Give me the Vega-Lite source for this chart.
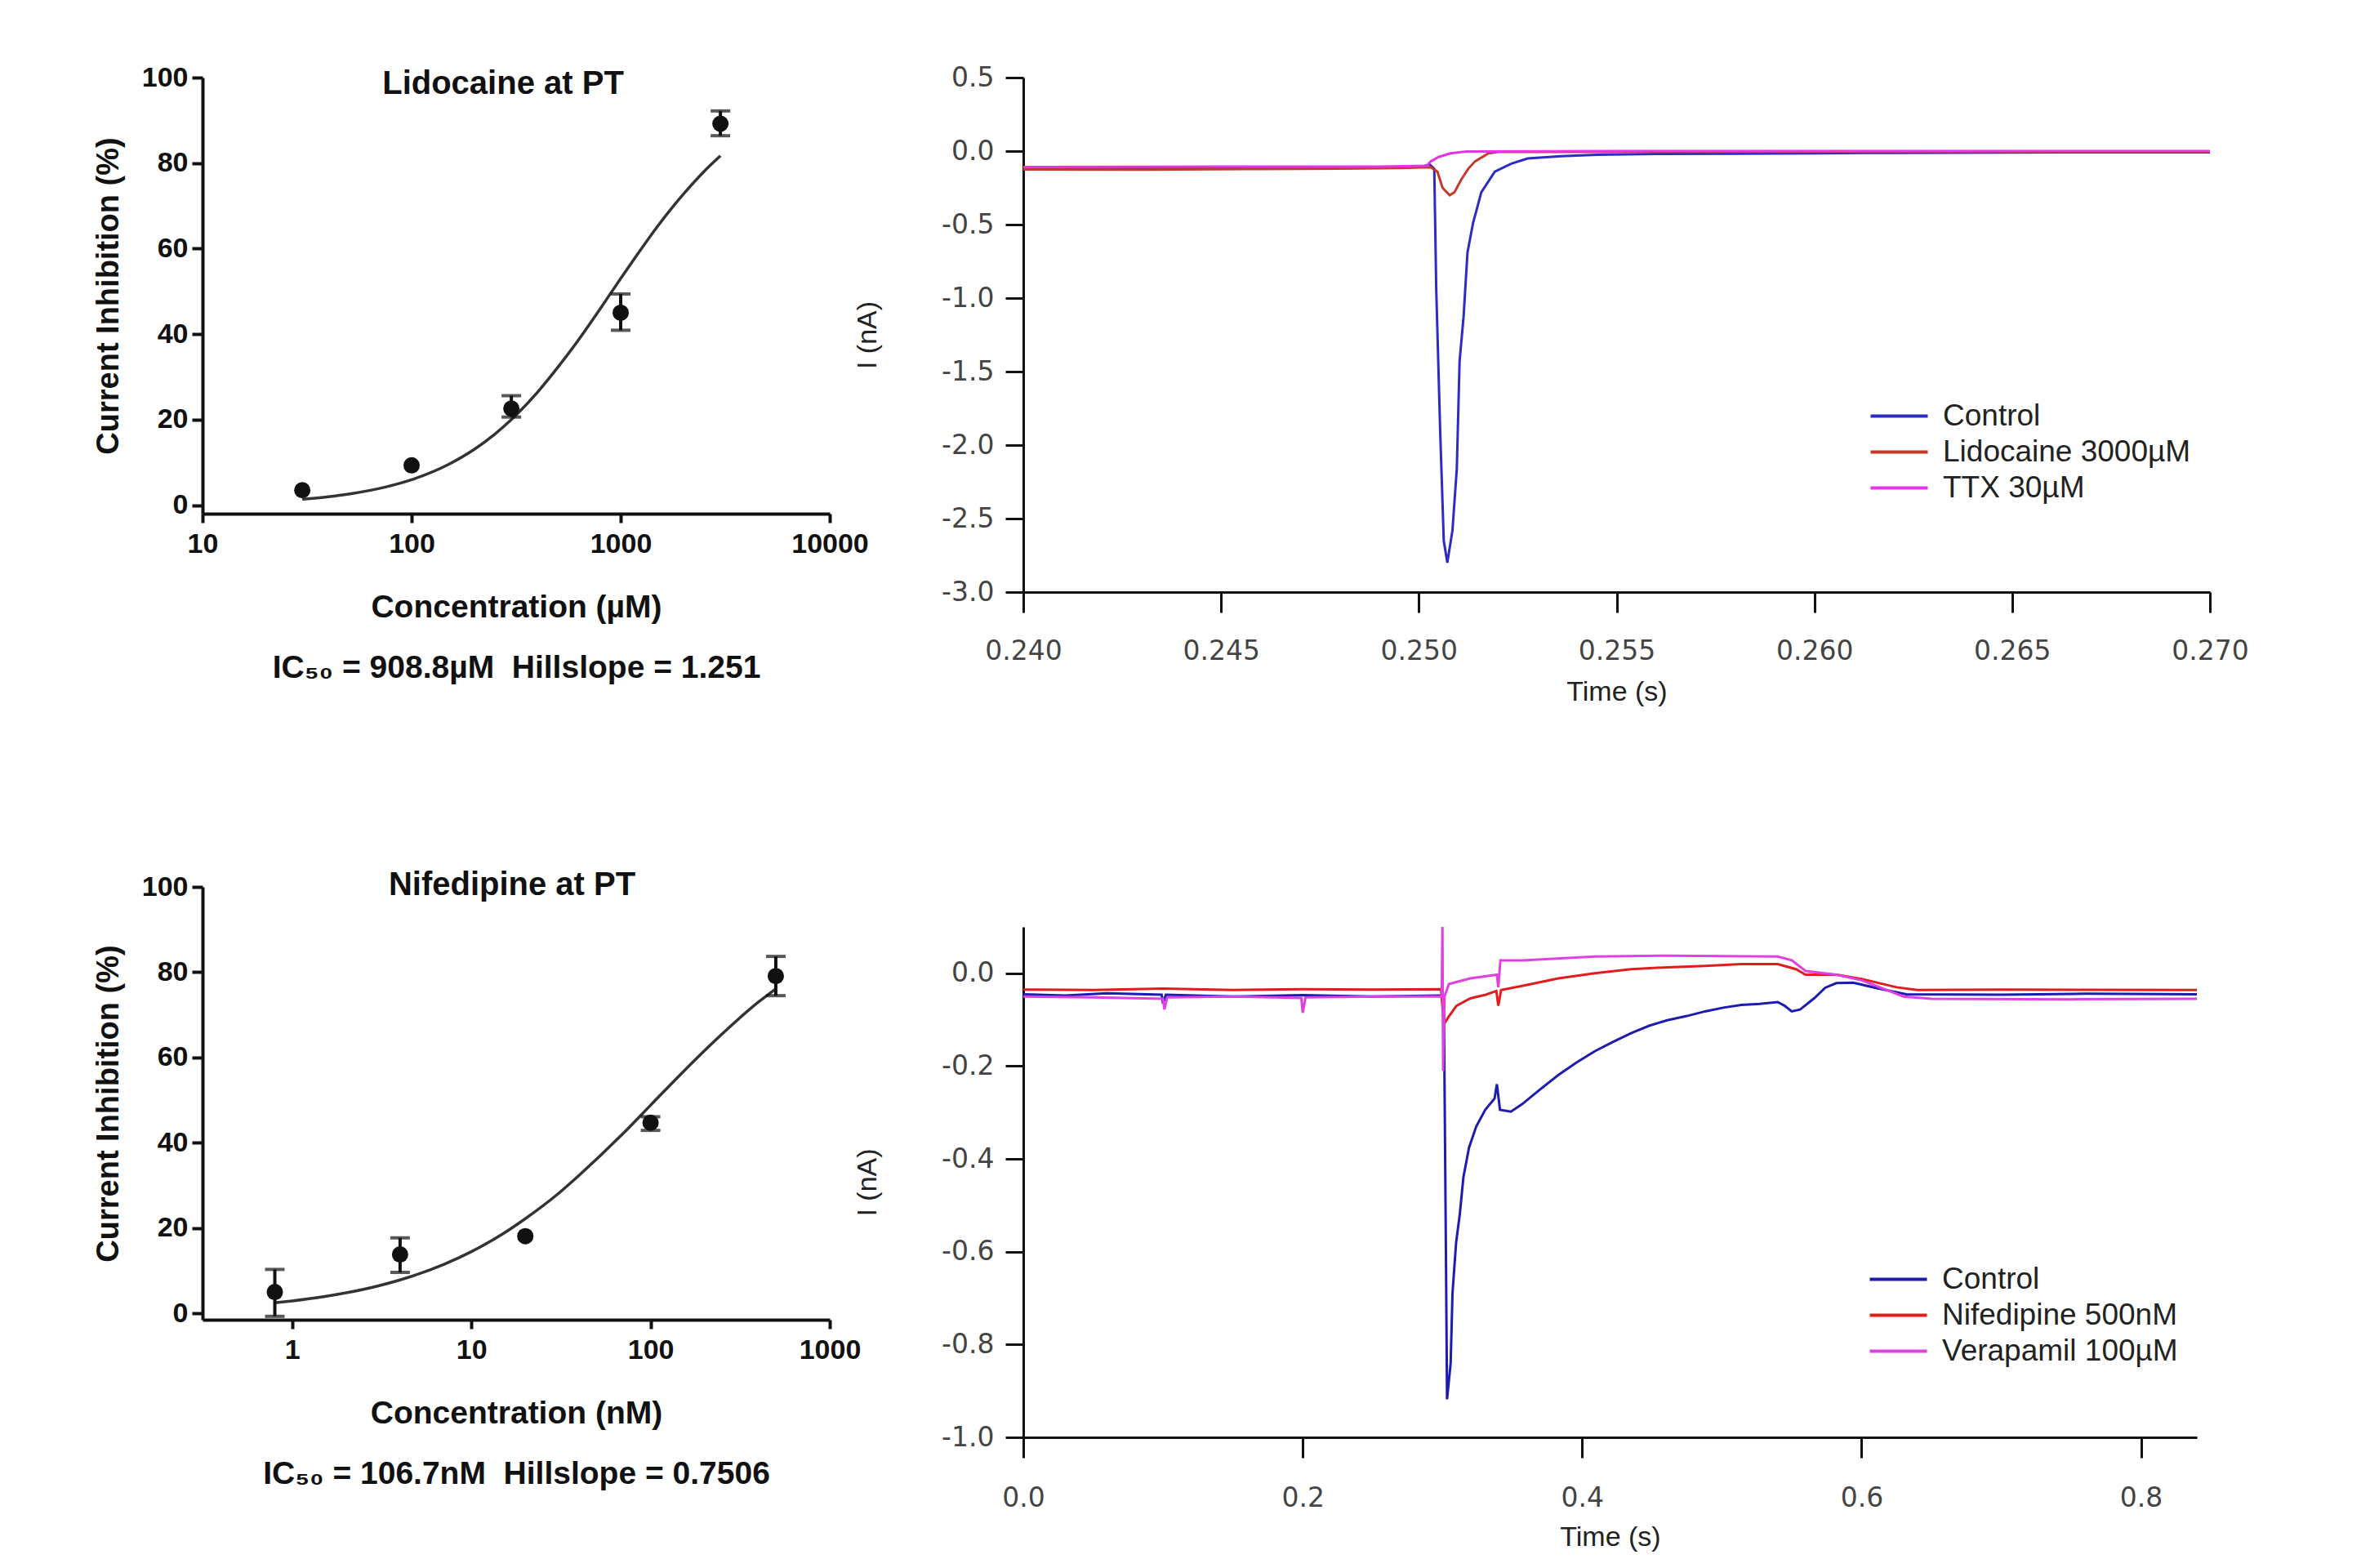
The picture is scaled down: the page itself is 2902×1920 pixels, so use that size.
{
  "$schema": "https://vega.github.io/schema/vega-lite/v6.json",
  "background": "white",
  "padding": {"left": 114, "top": 78, "right": 5, "bottom": 5},
  "config": {"view": {"stroke": null}, "font": "Liberation Sans"},
  "datasets": {
    "lidoPts": [
      {"conc": 30, "inh": 3.5, "lo": null, "hi": null},
      {"conc": 100, "inh": 9.3, "lo": null, "hi": null},
      {"conc": 300, "inh": 22.6, "lo": 20.6, "hi": 25.6},
      {"conc": 1000, "inh": 45.0, "lo": 40.9, "hi": 49.4},
      {"conc": 3000, "inh": 89.2, "lo": 86.4, "hi": 92.2}
    ],
    "lidoFit": [
      {"conc": 30, "inh": 1.38}, {"conc": 40, "inh": 1.97}, {"conc": 50, "inh": 2.59},
      {"conc": 75, "inh": 4.23}, {"conc": 100, "inh": 5.95}, {"conc": 150, "inh": 9.51},
      {"conc": 200, "inh": 13.08}, {"conc": 250, "inh": 16.6}, {"conc": 300, "inh": 20.0},
      {"conc": 400, "inh": 26.4}, {"conc": 500, "inh": 32.2}, {"conc": 600, "inh": 37.3},
      {"conc": 700, "inh": 41.9}, {"conc": 800, "inh": 46.0}, {"conc": 900, "inh": 49.7},
      {"conc": 1000, "inh": 53.0}, {"conc": 1200, "inh": 58.6}, {"conc": 1500, "inh": 65.2},
      {"conc": 2000, "inh": 72.8}, {"conc": 2500, "inh": 78.0}, {"conc": 3000, "inh": 81.7}
    ],
    "nifePts": [
      {"conc": 0.8, "inh": 5.0, "lo": -0.7, "hi": 10.3},
      {"conc": 4, "inh": 13.8, "lo": 9.6, "hi": 17.7},
      {"conc": 20, "inh": 18.1, "lo": null, "hi": null},
      {"conc": 100, "inh": 44.7, "lo": 42.9, "hi": 46.1},
      {"conc": 500, "inh": 79.1, "lo": 74.5, "hi": 83.7}
    ],
    "nifeFit": [
      {"conc": 0.8, "inh": 2.48}, {"conc": 1, "inh": 2.92}, {"conc": 1.5, "inh": 3.91},
      {"conc": 2, "inh": 4.81}, {"conc": 3, "inh": 6.41}, {"conc": 4, "inh": 7.84},
      {"conc": 7, "inh": 11.45}, {"conc": 10, "inh": 14.47}, {"conc": 15, "inh": 18.65},
      {"conc": 20, "inh": 22.2}, {"conc": 30, "inh": 27.8}, {"conc": 40, "inh": 32.4},
      {"conc": 70, "inh": 42.1}, {"conc": 100, "inh": 48.8}, {"conc": 150, "inh": 56.4},
      {"conc": 200, "inh": 61.6}, {"conc": 300, "inh": 68.5}, {"conc": 400, "inh": 73.0},
      {"conc": 500, "inh": 76.1}
    ],
    "topTrace": [
      {"series": "Control", "t": 0.2400, "i": -0.115},
      {"series": "Control", "t": 0.2420, "i": -0.113},
      {"series": "Control", "t": 0.2440, "i": -0.116},
      {"series": "Control", "t": 0.2460, "i": -0.112},
      {"series": "Control", "t": 0.2480, "i": -0.114},
      {"series": "Control", "t": 0.2495, "i": -0.110},
      {"series": "Control", "t": 0.2501, "i": -0.105},
      {"series": "Control", "t": 0.25027, "i": -0.09},
      {"series": "Control", "t": 0.25039, "i": -0.12},
      {"series": "Control", "t": 0.25044, "i": -0.94},
      {"series": "Control", "t": 0.25054, "i": -1.91},
      {"series": "Control", "t": 0.25063, "i": -2.65},
      {"series": "Control", "t": 0.25072, "i": -2.80},
      {"series": "Control", "t": 0.25085, "i": -2.58},
      {"series": "Control", "t": 0.25096, "i": -2.16},
      {"series": "Control", "t": 0.25103, "i": -1.43},
      {"series": "Control", "t": 0.25113, "i": -1.13},
      {"series": "Control", "t": 0.25123, "i": -0.69},
      {"series": "Control", "t": 0.25137, "i": -0.49},
      {"series": "Control", "t": 0.25158, "i": -0.28},
      {"series": "Control", "t": 0.25192, "i": -0.14},
      {"series": "Control", "t": 0.25234, "i": -0.085},
      {"series": "Control", "t": 0.25275, "i": -0.05},
      {"series": "Control", "t": 0.2536, "i": -0.035},
      {"series": "Control", "t": 0.2545, "i": -0.025},
      {"series": "Control", "t": 0.2560, "i": -0.02},
      {"series": "Control", "t": 0.2580, "i": -0.018},
      {"series": "Control", "t": 0.2600, "i": -0.015},
      {"series": "Control", "t": 0.2620, "i": -0.012},
      {"series": "Control", "t": 0.2650, "i": -0.01},
      {"series": "Control", "t": 0.2680, "i": -0.008},
      {"series": "Control", "t": 0.2700, "i": -0.008},
      {"series": "Lidocaine 3000µM", "t": 0.2400, "i": -0.125},
      {"series": "Lidocaine 3000µM", "t": 0.2430, "i": -0.127},
      {"series": "Lidocaine 3000µM", "t": 0.2460, "i": -0.122},
      {"series": "Lidocaine 3000µM", "t": 0.2480, "i": -0.120},
      {"series": "Lidocaine 3000µM", "t": 0.2495, "i": -0.115},
      {"series": "Lidocaine 3000µM", "t": 0.2503, "i": -0.11},
      {"series": "Lidocaine 3000µM", "t": 0.25047, "i": -0.14},
      {"series": "Lidocaine 3000µM", "t": 0.2506, "i": -0.25},
      {"series": "Lidocaine 3000µM", "t": 0.25078, "i": -0.30},
      {"series": "Lidocaine 3000µM", "t": 0.2509, "i": -0.28},
      {"series": "Lidocaine 3000µM", "t": 0.25108, "i": -0.19},
      {"series": "Lidocaine 3000µM", "t": 0.25125, "i": -0.12},
      {"series": "Lidocaine 3000µM", "t": 0.25142, "i": -0.07},
      {"series": "Lidocaine 3000µM", "t": 0.25176, "i": -0.015},
      {"series": "Lidocaine 3000µM", "t": 0.2520, "i": -0.005},
      {"series": "Lidocaine 3000µM", "t": 0.2550, "i": -0.005},
      {"series": "Lidocaine 3000µM", "t": 0.2600, "i": -0.004},
      {"series": "Lidocaine 3000µM", "t": 0.2700, "i": -0.004},
      {"series": "TTX 30µM", "t": 0.2400, "i": -0.108},
      {"series": "TTX 30µM", "t": 0.2450, "i": -0.106},
      {"series": "TTX 30µM", "t": 0.2490, "i": -0.105},
      {"series": "TTX 30µM", "t": 0.2502, "i": -0.10},
      {"series": "TTX 30µM", "t": 0.2503, "i": -0.07},
      {"series": "TTX 30µM", "t": 0.2505, "i": -0.04},
      {"series": "TTX 30µM", "t": 0.2508, "i": -0.015},
      {"series": "TTX 30µM", "t": 0.2512, "i": -0.003},
      {"series": "TTX 30µM", "t": 0.2550, "i": 0.0},
      {"series": "TTX 30µM", "t": 0.2600, "i": 0.0},
      {"series": "TTX 30µM", "t": 0.2700, "i": 0.0}
    ],
    "botTrace": [
      {"series": "Control", "t": 0.000, "i": -0.045},
      {"series": "Control", "t": 0.030, "i": -0.048},
      {"series": "Control", "t": 0.060, "i": -0.043},
      {"series": "Control", "t": 0.099, "i": -0.046},
      {"series": "Control", "t": 0.100, "i": -0.065},
      {"series": "Control", "t": 0.102, "i": -0.046},
      {"series": "Control", "t": 0.150, "i": -0.050},
      {"series": "Control", "t": 0.200, "i": -0.047},
      {"series": "Control", "t": 0.250, "i": -0.050},
      {"series": "Control", "t": 0.298, "i": -0.048},
      {"series": "Control", "t": 0.301, "i": -0.050},
      {"series": "Control", "t": 0.3025, "i": -0.60},
      {"series": "Control", "t": 0.3033, "i": -0.918},
      {"series": "Control", "t": 0.3059, "i": -0.84},
      {"series": "Control", "t": 0.3072, "i": -0.69},
      {"series": "Control", "t": 0.3098, "i": -0.58},
      {"series": "Control", "t": 0.3124, "i": -0.52},
      {"series": "Control", "t": 0.3150, "i": -0.44},
      {"series": "Control", "t": 0.3190, "i": -0.376},
      {"series": "Control", "t": 0.3242, "i": -0.33},
      {"series": "Control", "t": 0.3307, "i": -0.294},
      {"series": "Control", "t": 0.3373, "i": -0.27},
      {"series": "Control", "t": 0.3390, "i": -0.239},
      {"series": "Control", "t": 0.3412, "i": -0.294},
      {"series": "Control", "t": 0.349, "i": -0.298},
      {"series": "Control", "t": 0.357, "i": -0.282},
      {"series": "Control", "t": 0.370, "i": -0.25},
      {"series": "Control", "t": 0.383, "i": -0.219},
      {"series": "Control", "t": 0.396, "i": -0.192},
      {"series": "Control", "t": 0.409, "i": -0.168},
      {"series": "Control", "t": 0.422, "i": -0.148},
      {"series": "Control", "t": 0.435, "i": -0.129},
      {"series": "Control", "t": 0.448, "i": -0.113},
      {"series": "Control", "t": 0.461, "i": -0.101},
      {"series": "Control", "t": 0.475, "i": -0.092},
      {"series": "Control", "t": 0.488, "i": -0.082},
      {"series": "Control", "t": 0.501, "i": -0.074},
      {"series": "Control", "t": 0.514, "i": -0.068},
      {"series": "Control", "t": 0.527, "i": -0.066},
      {"series": "Control", "t": 0.540, "i": -0.062},
      {"series": "Control", "t": 0.545, "i": -0.070},
      {"series": "Control", "t": 0.550, "i": -0.082},
      {"series": "Control", "t": 0.556, "i": -0.078},
      {"series": "Control", "t": 0.566, "i": -0.054},
      {"series": "Control", "t": 0.574, "i": -0.031},
      {"series": "Control", "t": 0.582, "i": -0.021},
      {"series": "Control", "t": 0.594, "i": -0.020},
      {"series": "Control", "t": 0.611, "i": -0.032},
      {"series": "Control", "t": 0.632, "i": -0.045},
      {"series": "Control", "t": 0.700, "i": -0.046},
      {"series": "Control", "t": 0.760, "i": -0.044},
      {"series": "Control", "t": 0.840, "i": -0.045},
      {"series": "Nifedipine 500nM", "t": 0.000, "i": -0.035},
      {"series": "Nifedipine 500nM", "t": 0.050, "i": -0.036},
      {"series": "Nifedipine 500nM", "t": 0.100, "i": -0.033},
      {"series": "Nifedipine 500nM", "t": 0.150, "i": -0.036},
      {"series": "Nifedipine 500nM", "t": 0.200, "i": -0.034},
      {"series": "Nifedipine 500nM", "t": 0.250, "i": -0.035},
      {"series": "Nifedipine 500nM", "t": 0.299, "i": -0.034},
      {"series": "Nifedipine 500nM", "t": 0.301, "i": -0.110},
      {"series": "Nifedipine 500nM", "t": 0.3046, "i": -0.093},
      {"series": "Nifedipine 500nM", "t": 0.310, "i": -0.070},
      {"series": "Nifedipine 500nM", "t": 0.320, "i": -0.054},
      {"series": "Nifedipine 500nM", "t": 0.331, "i": -0.046},
      {"series": "Nifedipine 500nM", "t": 0.3386, "i": -0.038},
      {"series": "Nifedipine 500nM", "t": 0.340, "i": -0.070},
      {"series": "Nifedipine 500nM", "t": 0.342, "i": -0.036},
      {"series": "Nifedipine 500nM", "t": 0.357, "i": -0.027},
      {"series": "Nifedipine 500nM", "t": 0.383, "i": -0.011},
      {"series": "Nifedipine 500nM", "t": 0.409, "i": 0.000},
      {"series": "Nifedipine 500nM", "t": 0.435, "i": 0.009},
      {"series": "Nifedipine 500nM", "t": 0.461, "i": 0.013},
      {"series": "Nifedipine 500nM", "t": 0.488, "i": 0.016},
      {"series": "Nifedipine 500nM", "t": 0.514, "i": 0.020},
      {"series": "Nifedipine 500nM", "t": 0.540, "i": 0.020},
      {"series": "Nifedipine 500nM", "t": 0.553, "i": 0.009},
      {"series": "Nifedipine 500nM", "t": 0.560, "i": -0.003},
      {"series": "Nifedipine 500nM", "t": 0.582, "i": -0.003},
      {"series": "Nifedipine 500nM", "t": 0.600, "i": -0.012},
      {"series": "Nifedipine 500nM", "t": 0.625, "i": -0.030},
      {"series": "Nifedipine 500nM", "t": 0.640, "i": -0.036},
      {"series": "Nifedipine 500nM", "t": 0.700, "i": -0.035},
      {"series": "Nifedipine 500nM", "t": 0.840, "i": -0.036},
      {"series": "Verapamil 100µM", "t": 0.000, "i": -0.050},
      {"series": "Verapamil 100µM", "t": 0.050, "i": -0.052},
      {"series": "Verapamil 100µM", "t": 0.100, "i": -0.055},
      {"series": "Verapamil 100µM", "t": 0.101, "i": -0.078},
      {"series": "Verapamil 100µM", "t": 0.103, "i": -0.052},
      {"series": "Verapamil 100µM", "t": 0.150, "i": -0.050},
      {"series": "Verapamil 100µM", "t": 0.199, "i": -0.053},
      {"series": "Verapamil 100µM", "t": 0.200, "i": -0.085},
      {"series": "Verapamil 100µM", "t": 0.202, "i": -0.052},
      {"series": "Verapamil 100µM", "t": 0.250, "i": -0.050},
      {"series": "Verapamil 100µM", "t": 0.2995, "i": -0.050},
      {"series": "Verapamil 100µM", "t": 0.3000, "i": 0.100},
      {"series": "Verapamil 100µM", "t": 0.3005, "i": -0.210},
      {"series": "Verapamil 100µM", "t": 0.3015, "i": -0.050},
      {"series": "Verapamil 100µM", "t": 0.3046, "i": -0.023},
      {"series": "Verapamil 100µM", "t": 0.320, "i": -0.011},
      {"series": "Verapamil 100µM", "t": 0.339, "i": -0.003},
      {"series": "Verapamil 100µM", "t": 0.340, "i": -0.030},
      {"series": "Verapamil 100µM", "t": 0.3415, "i": 0.028},
      {"series": "Verapamil 100µM", "t": 0.357, "i": 0.028},
      {"series": "Verapamil 100µM", "t": 0.409, "i": 0.036},
      {"series": "Verapamil 100µM", "t": 0.461, "i": 0.038},
      {"series": "Verapamil 100µM", "t": 0.540, "i": 0.036},
      {"series": "Verapamil 100µM", "t": 0.550, "i": 0.028},
      {"series": "Verapamil 100µM", "t": 0.560, "i": 0.005},
      {"series": "Verapamil 100µM", "t": 0.582, "i": -0.003},
      {"series": "Verapamil 100µM", "t": 0.600, "i": -0.015},
      {"series": "Verapamil 100µM", "t": 0.630, "i": -0.050},
      {"series": "Verapamil 100µM", "t": 0.650, "i": -0.055},
      {"series": "Verapamil 100µM", "t": 0.750, "i": -0.056},
      {"series": "Verapamil 100µM", "t": 0.840, "i": -0.055}
    ]
  },
  "spacing": -19,
  "hconcat": [
    {
      "spacing": 227,
      "vconcat": [
        {
          "width": 768, "height": 534,
          "title": {"text": "Lidocaine at PT", "font": "Liberation Sans", "fontSize": 40, "fontWeight": "bold", "color": "#111", "frame": "group", "anchor": "middle", "offset": -45, "dx": -16},
          "layer": [
            {
              "data": {"name": "lidoFit"},
              "mark": {"type": "line", "color": "#333", "strokeWidth": 3.5, "interpolate": "monotone"},
              "encoding": {
                "x": {"field": "conc", "type": "quantitative", "scale": {"type": "log", "domain": [10, 10000], "nice": false},
                  "axis": {"title": ["Concentration (µM)", "IC₅₀ = 908.8µM\u00a0 Hillslope = 1.251"], "titleFont": "Liberation Sans", "titleFontSize": 39, "titleFontWeight": "bold", "titleColor": "#111", "titleLineHeight": 74, "titlePadding": 41, "labelFont": "Liberation Sans", "labelFontSize": 34, "labelFontWeight": "bold", "labelColor": "#111", "labelPadding": 9, "tickSize": 11, "tickWidth": 4, "tickColor": "#111", "domainWidth": 4, "domainColor": "#111", "grid": false, "values": [10, 100, 1000, 10000], "format": "d", "labelFlush": false, "labelOverlap": false}},
                "y": {"field": "inh", "type": "quantitative", "scale": {"domain": [-2, 100], "nice": false, "zero": false},
                  "axis": {"title": "Current Inhibition (%)", "titleFont": "Liberation Sans", "titleFontSize": 38, "titleFontWeight": "bold", "titleColor": "#111", "titlePadding": 21, "labelFont": "Liberation Sans", "labelFontSize": 34, "labelFontWeight": "bold", "labelColor": "#111", "labelPadding": 5, "tickSize": 13, "tickWidth": 4, "tickColor": "#111", "domainWidth": 4, "domainColor": "#111", "grid": false, "values": [0, 20, 40, 60, 80, 100]}}
              }
            },
            {
              "data": {"name": "lidoPts"},
              "transform": [{"filter": "datum.lo != null"}],
              "mark": {"type": "errorbar", "color": "#111", "thickness": 4, "ticks": {"size": 24, "thickness": 4, "color": "#111"}},
              "encoding": {
                "x": {"field": "conc", "type": "quantitative", "title": ["Concentration (µM)", "IC₅₀ = 908.8µM\u00a0 Hillslope = 1.251"]},
                "y": {"field": "lo", "type": "quantitative", "title": "Current Inhibition (%)"},
                "y2": {"field": "hi"}
              }
            },
            {
              "data": {"name": "lidoPts"},
              "mark": {"type": "point", "filled": true, "color": "#111", "opacity": 1, "size": 400},
              "encoding": {
                "x": {"field": "conc", "type": "quantitative", "title": ["Concentration (µM)", "IC₅₀ = 908.8µM\u00a0 Hillslope = 1.251"]},
                "y": {"field": "inh", "type": "quantitative", "title": "Current Inhibition (%)"}
              }
            }
          ]
        },
        {
          "width": 768, "height": 530,
          "title": {"text": "Nifedipine at PT", "font": "Liberation Sans", "fontSize": 40, "fontWeight": "bold", "color": "#111", "frame": "group", "anchor": "middle", "offset": -35, "dx": -5},
          "layer": [
            {
              "data": {"name": "nifeFit"},
              "mark": {"type": "line", "color": "#333", "strokeWidth": 3.5, "interpolate": "monotone"},
              "encoding": {
                "x": {"field": "conc", "type": "quantitative", "scale": {"type": "log", "domain": [0.316, 1000], "nice": false},
                  "axis": {"title": ["Concentration (nM)", "IC₅₀ = 106.7nM\u00a0 Hillslope = 0.7506"], "titleFont": "Liberation Sans", "titleFontSize": 39, "titleFontWeight": "bold", "titleColor": "#111", "titleLineHeight": 74, "titlePadding": 41, "labelFont": "Liberation Sans", "labelFontSize": 34, "labelFontWeight": "bold", "labelColor": "#111", "labelPadding": 9, "tickSize": 11, "tickWidth": 4, "tickColor": "#111", "domainWidth": 4, "domainColor": "#111", "grid": false, "values": [1, 10, 100, 1000], "format": "d", "labelFlush": false, "labelOverlap": false}},
                "y": {"field": "inh", "type": "quantitative", "scale": {"domain": [-1.5, 100], "nice": false, "zero": false},
                  "axis": {"title": "Current Inhibition (%)", "titleFont": "Liberation Sans", "titleFontSize": 38, "titleFontWeight": "bold", "titleColor": "#111", "titlePadding": 21, "labelFont": "Liberation Sans", "labelFontSize": 34, "labelFontWeight": "bold", "labelColor": "#111", "labelPadding": 5, "tickSize": 13, "tickWidth": 4, "tickColor": "#111", "domainWidth": 4, "domainColor": "#111", "grid": false, "values": [0, 20, 40, 60, 80, 100]}}
              }
            },
            {
              "data": {"name": "nifePts"},
              "transform": [{"filter": "datum.lo != null"}],
              "mark": {"type": "errorbar", "color": "#111", "thickness": 4, "ticks": {"size": 24, "thickness": 4, "color": "#111"}},
              "encoding": {
                "x": {"field": "conc", "type": "quantitative", "title": ["Concentration (nM)", "IC₅₀ = 106.7nM\u00a0 Hillslope = 0.7506"]},
                "y": {"field": "lo", "type": "quantitative", "title": "Current Inhibition (%)"},
                "y2": {"field": "hi"}
              }
            },
            {
              "data": {"name": "nifePts"},
              "mark": {"type": "point", "filled": true, "color": "#111", "opacity": 1, "size": 400},
              "encoding": {
                "x": {"field": "conc", "type": "quantitative", "title": ["Concentration (nM)", "IC₅₀ = 106.7nM\u00a0 Hillslope = 0.7506"]},
                "y": {"field": "inh", "type": "quantitative", "title": "Current Inhibition (%)"}
              }
            }
          ]
        }
      ]
    },
    {
      "spacing": 265,
      "resolve": {"scale": {"color": "independent"}, "legend": {"color": "independent"}},
      "vconcat": [
        {
          "width": 1453, "height": 630,
          "data": {"name": "topTrace"},
          "mark": {"type": "line", "strokeWidth": 3},
          "encoding": {
            "x": {"field": "t", "type": "quantitative", "scale": {"domain": [0.24, 0.27], "nice": false, "zero": false},
              "axis": {"title": "Time (s)", "titleFont": "Liberation Sans", "titleFontSize": 34, "titleFontWeight": "normal", "titleColor": "#222", "titlePadding": 16, "labelFont": "DejaVu Sans", "labelFontSize": 33, "labelColor": "#444", "labelPadding": 31, "tickSize": 25, "tickWidth": 3, "tickColor": "#111", "domainWidth": 3, "domainColor": "#111", "grid": false, "values": [0.24, 0.245, 0.25, 0.255, 0.26, 0.265, 0.27], "format": ".3f", "labelFlush": false, "labelOverlap": false}},
            "y": {"field": "i", "type": "quantitative", "scale": {"domain": [-3, 0.5], "nice": false, "zero": false},
              "axis": {"title": "I (nA)", "titleFont": "Liberation Sans", "titleFontSize": 34, "titleFontWeight": "normal", "titleColor": "#222", "titlePadding": 73, "labelFont": "DejaVu Sans", "labelFontSize": 33, "labelColor": "#444", "labelPadding": 14, "tickSize": 22, "tickWidth": 3, "tickColor": "#111", "domainWidth": 3, "domainColor": "#111", "grid": false, "values": [-3, -2.5, -2, -1.5, -1, -0.5, 0, 0.5], "labelExpr": "replace(format(datum.value, '.1f'), '\u2212', '-')", "labelFlush": false}},
            "color": {"field": "series", "type": "nominal",
              "scale": {"domain": ["Control", "Lidocaine 3000µM", "TTX 30µM"], "range": ["#2c2cc4", "#c43a2a", "#e832e8"]},
              "legend": {"title": null, "orient": "none", "legendX": 1019, "legendY": 396, "symbolType": "M0,0H5", "symbolSize": 784, "symbolStrokeWidth": 4, "labelFont": "Liberation Sans", "labelFontSize": 37, "labelColor": "#222", "labelOffset": 70, "labelLimit": 0, "rowPadding": 6}}
          }
        },
        {
          "width": 1437, "height": 625,
          "data": {"name": "botTrace"},
          "mark": {"type": "line", "strokeWidth": 3},
          "encoding": {
            "x": {"field": "t", "type": "quantitative", "scale": {"domain": [0, 0.84], "nice": false, "zero": false},
              "axis": {"title": "Time (s)", "titleFont": "Liberation Sans", "titleFontSize": 34, "titleFontWeight": "normal", "titleColor": "#222", "titlePadding": 14, "labelFont": "DejaVu Sans", "labelFontSize": 33, "labelColor": "#444", "labelPadding": 33, "tickSize": 25, "tickWidth": 3, "tickColor": "#111", "domainWidth": 3, "domainColor": "#111", "grid": false, "values": [0, 0.2, 0.4, 0.6, 0.8], "format": ".1f", "labelFlush": false, "labelOverlap": false}},
            "y": {"field": "i", "type": "quantitative", "scale": {"domain": [-1, 0.1], "nice": false, "zero": false},
              "axis": {"title": "I (nA)", "titleFont": "Liberation Sans", "titleFontSize": 34, "titleFontWeight": "normal", "titleColor": "#222", "titlePadding": 73, "labelFont": "DejaVu Sans", "labelFontSize": 33, "labelColor": "#444", "labelPadding": 14, "tickSize": 22, "tickWidth": 3, "tickColor": "#111", "domainWidth": 3, "domainColor": "#111", "grid": false, "values": [-1, -0.8, -0.6, -0.4, -0.2, 0], "labelExpr": "replace(format(datum.value, '.1f'), '\u2212', '-')", "labelFlush": false}},
            "color": {"field": "series", "type": "nominal",
              "scale": {"domain": ["Control", "Nifedipine 500nM", "Verapamil 100µM"], "range": ["#1c1cb0", "#e01c1c", "#e040e0"]},
              "legend": {"title": null, "orient": "none", "legendX": 1018, "legendY": 413, "symbolType": "M0,0H5", "symbolSize": 784, "symbolStrokeWidth": 4, "labelFont": "Liberation Sans", "labelFontSize": 37, "labelColor": "#222", "labelOffset": 70, "labelLimit": 0, "rowPadding": 6}}
          }
        }
      ]
    }
  ]
}
